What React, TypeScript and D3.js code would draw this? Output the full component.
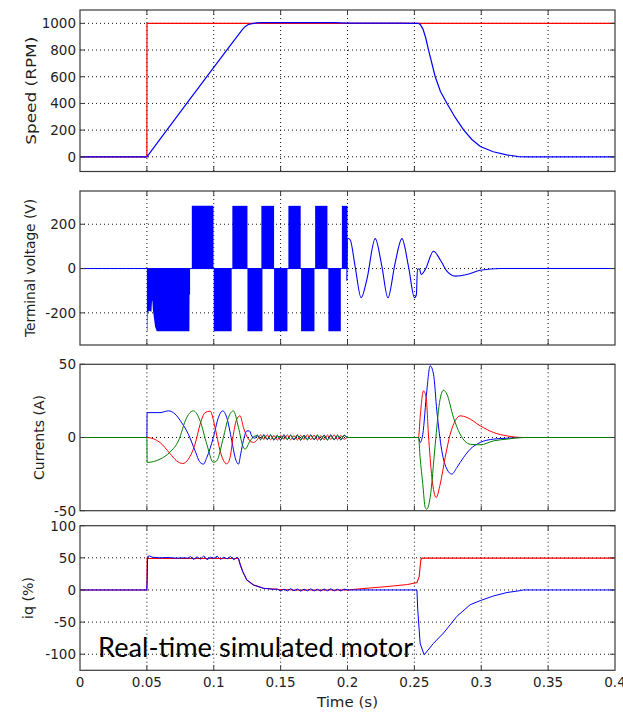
import React from 'react';
import * as d3 from 'd3';

type P = [number, number];

// ---------- axis ticks ----------
const timeTicks = [0, 0.05, 0.1, 0.15, 0.2, 0.25, 0.3, 0.35, 0.4];
const timeTickLabels = ['0', '0.05', '0.1', '0.15', '0.2', '0.25', '0.3', '0.35', '0.4'];
const speedTicks = [0, 200, 400, 600, 800, 1000];
const voltageTicks = [-200, 0, 200];
const currentTicks = [-50, 0, 50];
const iqTicks = [-100, -50, 0, 50, 100];

// ---------- speed (RPM) ----------
const speedRef: P[] = [[0, 0], [0.05, 0], [0.0501, 1000], [0.4, 1000]];
const speedMeas: P[] = [
  [0, 0], [0.05, 0], [0.0798, 401], [0.1097, 800], [0.1215, 955], [0.1234, 975], [0.1255, 990],
  [0.1284, 998], [0.132, 1003], [0.135, 1005], [0.19, 1005], [0.2, 1002], [0.24, 1002],
  [0.2529, 1000], [0.2545, 990], [0.2565, 955], [0.2585, 890], [0.2606, 800], [0.2656, 600],
  [0.2695, 490], [0.2743, 401], [0.2805, 295], [0.2868, 202], [0.293, 130], [0.2993, 77],
  [0.309, 38], [0.319, 15], [0.3278, 2], [0.335, 0], [0.4, 0],
];

// ---------- terminal voltage (V) ----------
// PWM blocks: [start, end, level]
const voltageBlocks: [number, number, number][] = [
  [0.0836, 0.0998, 283], [0.1, 0.1134, -283], [0.1139, 0.1252, 283], [0.1252, 0.1364, -283],
  [0.1356, 0.1451, 283], [0.1451, 0.1551, -283], [0.1558, 0.165, 283], [0.1653, 0.1753, -283],
  [0.1758, 0.185, 283], [0.1857, 0.195, -283], [0.1958, 0.2, 283],
];
const voltageFirstBlock: P[] = [
  [0.05, -283], [0.0504, -283], [0.0505, -200], [0.0516, -190], [0.0534, -195], [0.0538, -150],
  [0.0541, -144], [0.0545, -190], [0.0548, -200], [0.0561, -262], [0.0574, -283], [0.0818, -283],
  [0.0819, -117], [0.0823, -117],
];
const voltageZero: P[] = [[0, 0], [0.2, 0]];
const voltageTail: P[] = [
  [0.1995, -55], [0.2, 137], [0.202, 130], [0.2057, 10], [0.2102, -132], [0.2145, -49],
  [0.2207, 135], [0.2257, 10], [0.2302, -132], [0.2356, 25], [0.2407, 135], [0.2456, 10],
  [0.2501, -132], [0.2515, -117], [0.2523, -2], [0.2538, -2], [0.2551, -27], [0.2581, -5],
  [0.2643, 78], [0.2693, 40], [0.2743, -12], [0.2805, -34], [0.2893, -27], [0.2992, -8],
  [0.3142, 0], [0.4, 0],
];

// ---------- phase currents (A) ----------
const noiseTimes = [
  0.1325, 0.135, 0.1375, 0.14, 0.1425, 0.145, 0.1475, 0.15, 0.1525, 0.155, 0.1575, 0.16, 0.1625,
  0.165, 0.1675, 0.17, 0.1725, 0.175, 0.1775, 0.18, 0.1825, 0.185, 0.1875, 0.19, 0.1925, 0.195, 0.1975,
];
const blueNoise = [1.8, -1.2, 2, -1.5, 1.6, -1.8, 1.2, -1.6, 1.9, -1.3, 1.5, -1.7, 1.4, -1.9, 1.6, -1.2, 1.8, -1.5, 1.3, -1.8, 1.7, -1.4, 1.9, -1.6, 1.2, -1.7, 1.5];
const redNoise = [-1.5, 1.7, -1.3, 1.9, -1.6, 1.4, -1.8, 1.5, -1.2, 1.8, -1.6, 1.3, -1.7, 1.5, -1.4, 1.9, -1.5, 1.6, -1.8, 1.2, -1.5, 1.7, -1.3, 1.8, -1.6, 1.4, -1.2];
const greenNoise = [1.2, -1.6, 1.5, -1.2, 1.8, -1.4, 1.6, -1.9, 1.3, -1.5, 1.7, -1.2, 1.9, -1.4, 1.2, -1.7, 1.5, -1.3, 1.8, -1.6, 1.4, -1.8, 1.2, -1.5, 1.7, -1.3, 1.6];

const currentBlueStart: P[] = [
  [0, 0], [0.05, 0], [0.0502, 17], [0.0598, 17], [0.0661, 18.2], [0.0711, 16], [0.0761, 10],
  [0.081, 2.3], [0.086, -9], [0.0898, -17], [0.0923, -18.2], [0.0948, -13.7], [0.0997, 0],
  [0.1035, 13.7], [0.1067, 18.2], [0.1097, 13.7], [0.1135, -2.3], [0.116, -13.7], [0.1185, -18.2],
  [0.1202, -11], [0.1222, -2], [0.1247, 4.5], [0.1267, 4.5], [0.1284, 1], [0.1309, -0.5],
];
const currentBlueEnd: P[] = [
  [0.2, 0], [0.2531, 0], [0.2543, -3.4], [0.2563, 2.3], [0.2593, 31.9], [0.2618, 49], [0.2643, 43.3],
  [0.2668, 18.2], [0.2705, -9], [0.2743, -21.6], [0.278, -25], [0.2818, -20.5], [0.2867, -13.7],
  [0.2917, -8], [0.2992, -3.4], [0.3092, -1.1], [0.3192, -0.5], [0.3316, 0], [0.4, 0],
];
const currentRedStart: P[] = [
  [0, 0], [0.05, 0], [0.0598, -3.4], [0.0673, -11], [0.0723, -16], [0.0768, -17.8], [0.081, -14.8],
  [0.086, -4.6], [0.0898, 9], [0.0935, 17], [0.0973, 18], [0.101, 6.8], [0.1047, -9], [0.1097, -18],
  [0.1122, -13.7], [0.1147, 2.3], [0.1172, 12.5], [0.1197, 14.8], [0.1222, 6.8], [0.1259, -1],
  [0.1297, -3.4],
];
const currentRedEnd: P[] = [
  [0.2, 0], [0.2531, 0], [0.2543, 13.7], [0.2568, 31.9], [0.2588, 27.3], [0.2605, 2.3], [0.2631, -27.3],
  [0.2663, -41], [0.2693, -31.9], [0.273, -13.7], [0.2768, 2.3], [0.2805, 11.4], [0.2842, 14.8],
  [0.2893, 13.7], [0.2992, 8], [0.3092, 3.4], [0.3192, 1.1], [0.3316, 0], [0.4, 0],
];
const currentGreenStart: P[] = [
  [0, 0], [0.05, 0], [0.0502, -17], [0.0598, -14.8], [0.0673, -10], [0.0736, -2.3], [0.0798, 13.7],
  [0.0848, 18.2], [0.0898, 11.4], [0.0948, -4.6], [0.0997, -17], [0.1022, -16], [0.1072, 0],
  [0.111, 13.7], [0.1147, 18.2], [0.1185, 6.8], [0.1217, -5.7], [0.1234, -8], [0.1272, -2.3],
  [0.1309, 1.1],
];
const currentGreenEnd: P[] = [
  [0.2, 0], [0.2531, 0], [0.2543, -13.7], [0.2563, -31.9], [0.2581, -47.8], [0.2593, -49],
  [0.2618, -41], [0.2656, -4.6], [0.2688, 23.9], [0.2718, 32.3], [0.2743, 29.6], [0.2792, 13.7],
  [0.2842, 2.3], [0.2917, -4.6], [0.2992, -5], [0.3092, -2.3], [0.3192, -1.1], [0.3316, 0], [0.4, 0],
];

// ---------- iq (%) ----------
const iqRef: P[] = [
  [0, 0], [0.05, 0], [0.0502, 49], [0.1185, 49], [0.1197, 40], [0.1217, 28.5], [0.1247, 15.5],
  [0.1297, 7.8], [0.1372, 2.6], [0.1471, 1], [0.16, 0], [0.2, 0], [0.21, 2], [0.23, 5.5],
  [0.245, 8.5], [0.2519, 11.4], [0.2536, 20.7], [0.2548, 46.6], [0.2556, 49.5], [0.4, 49.5],
];
const iqMeasStart: P[] = [
  [0, 0], [0.0499, 0], [0.0502, 14], [0.0506, 52], [0.052, 53], [0.054, 51], [0.06, 50],
  [0.066, 50.5], [0.072, 49.5], [0.078, 50], [0.081, 49.5],
];
const iqNoiseTimes1 = [0.0825, 0.085, 0.0875, 0.09, 0.0925, 0.095, 0.0975, 0.1, 0.1025, 0.105, 0.1075, 0.11, 0.1125, 0.115, 0.1175];
const iqNoise1 = [52, 47.5, 51.5, 48, 53, 47, 51, 49, 52.5, 47.5, 51, 48.5, 52, 47, 51];
const iqMeasMid: P[] = [
  [0.1185, 49], [0.1197, 40], [0.1217, 28.5], [0.1247, 15.5], [0.1297, 7.8], [0.1372, 2.6], [0.1445, 1],
];
const iqNoiseTimes2 = [0.1475, 0.15, 0.1525, 0.155, 0.1575, 0.16, 0.1625, 0.165, 0.1675, 0.17, 0.1725, 0.175, 0.1775, 0.18, 0.1825, 0.185, 0.1875, 0.19, 0.1925, 0.195, 0.1975];
const iqNoise2 = [1.5, -1.8, 1.2, -1.5, 2, -1.2, 1.6, -1.9, 1.3, -1.4, 1.8, -1.6, 1.1, -1.7, 1.5, -1.3, 1.9, -1.5, 1.2, -1.6, 1.4];
const iqMeasEnd: P[] = [
  [0.2, 0], [0.2519, 0], [0.2525, -30], [0.2543, -83], [0.2573, -101], [0.2643, -83], [0.2718, -67],
  [0.2818, -41], [0.2917, -23], [0.2992, -16.6], [0.3092, -9.3], [0.3192, -4], [0.3292, -1],
  [0.3316, 0], [0.4, 0],
];

const annotation = 'Real-time simulated motor';

// ---------- build series ----------
const zip = (ts: number[], vs: number[]): P[] => ts.map((t, i) => [t, vs[i]] as P);
const currentBlue = [...currentBlueStart, ...zip(noiseTimes, blueNoise), ...currentBlueEnd];
const currentRed = [...currentRedStart, ...zip(noiseTimes, redNoise), ...currentRedEnd];
const currentGreen = [...currentGreenStart, ...zip(noiseTimes, greenNoise), ...currentGreenEnd];
const iqMeas = [...iqMeasStart, ...zip(iqNoiseTimes1, iqNoise1), ...iqMeasMid, ...zip(iqNoiseTimes2, iqNoise2), ...iqMeasEnd];

const W = 623;
const H = 713;
const X0 = 80;
const X1 = 615;
const FONT = "'DejaVu Sans', 'Liberation Sans', Arial, sans-serif";
const AXIS = '#3a3a3a';
const TXT = '#1e1e1e';
const RED = '#ff0000';
const BLUE = '#0000ff';
const GREEN = '#008000';

const x = d3.scaleLinear().domain([0, 0.4]).range([X0, X1]);

interface Panel {
  top: number;
  bottom: number;
  domain: [number, number];
  ticks: number[];
  label: string;
  labelX: number;
  labelLen: number;
}

const panels: Panel[] = [
  { top: 10, bottom: 171.5, domain: [-110, 1100], ticks: speedTicks, label: 'Speed (RPM)', labelX: 31, labelLen: 108 },
  { top: 191, bottom: 345, domain: [-345, 350], ticks: voltageTicks, label: 'Terminal voltage (V)', labelX: 29.5, labelLen: 138 },
  { top: 364.3, bottom: 510.7, domain: [-50, 50], ticks: currentTicks, label: 'Currents (A)', labelX: 38.5, labelLen: 85 },
  { top: 525.7, bottom: 670.3, domain: [-125, 100], ticks: iqTicks, label: 'iq (%)', labelX: 28, labelLen: 42 },
];

const yScales = panels.map((p) => d3.scaleLinear().domain(p.domain).range([p.bottom, p.top]));

function linePath(data: P[], y: d3.ScaleLinear<number, number>, curve: d3.CurveFactory = d3.curveLinear) {
  return d3.line<P>().x((d) => x(d[0])).y((d) => y(d[1])).curve(curve)(data) || '';
}
function areaPath(data: P[], y: d3.ScaleLinear<number, number>) {
  return d3.area<P>().x((d) => x(d[0])).y0(y(0)).y1((d) => y(d[1]))(data) || '';
}

function Frame({ p, y, showX }: { p: Panel; y: d3.ScaleLinear<number, number>; showX: boolean }) {
  const tl = 5;
  return (
    <g>
      {timeTicks.slice(1, -1).map((t) => (
        <g key={'xt' + t}>
          <line x1={x(t)} x2={x(t)} y1={p.bottom} y2={p.bottom - tl} stroke={AXIS} />
          <line x1={x(t)} x2={x(t)} y1={p.top} y2={p.top + tl} stroke={AXIS} />
        </g>
      ))}
      {p.ticks.map((v) => (
        <g key={'yt' + v}>
          <line x1={X0} x2={X0 + tl} y1={y(v)} y2={y(v)} stroke={AXIS} />
          <line x1={X1} x2={X1 - tl} y1={y(v)} y2={y(v)} stroke={AXIS} />
          <text x={X0 - 4} y={y(v)} dy="0.36em" textAnchor="end" fontSize={13.5} fill={TXT} fontFamily={FONT}>
            {v < 0 ? '-' + Math.abs(v) : String(v)}
          </text>
        </g>
      ))}
      <rect x={X0} y={p.top} width={X1 - X0} height={p.bottom - p.top} fill="none" stroke={AXIS} strokeWidth={1.2} />
      <text
        transform={`translate(${p.labelX},${(p.top + p.bottom) / 2}) rotate(-90)`}
        textAnchor="middle"
        dy="0.36em"
        fontSize={14}
        fill={TXT}
        fontFamily={FONT}
        textLength={p.labelLen}
        lengthAdjust="spacingAndGlyphs"
      >
        {p.label}
      </text>
      {showX &&
        timeTicks.map((t, i) => (
          <text key={'xl' + t} x={x(t)} y={687} textAnchor="middle" fontSize={13.5} fill={TXT} fontFamily={FONT}>
            {timeTickLabels[i]}
          </text>
        ))}
    </g>
  );
}

function Grid({ p, y }: { p: Panel; y: d3.ScaleLinear<number, number> }) {
  const inner = p.ticks.filter((v) => y(v) > p.top + 1 && y(v) < p.bottom - 1);
  return (
    <g stroke="#111" strokeWidth={1} strokeDasharray="1,3">
      {timeTicks.slice(1, -1).map((t) => (
        <line key={'gx' + t} x1={x(t)} x2={x(t)} y1={p.top} y2={p.bottom} />
      ))}
      {inner.map((v) => (
        <line key={'gy' + v} x1={X0} x2={X1} y1={y(v)} y2={y(v)} />
      ))}
    </g>
  );
}

export default function App() {
  const [ys, yv, yc, yq] = yScales;
  const smooth = d3.curveMonotoneX;
  return (
    <svg width={W} height={H} style={{ position: 'absolute', left: 0, top: 0, background: '#fff' }}>
      <rect x={0} y={0} width={W} height={H} fill="#fff" />
      {panels.map((p, i) => (
        <Grid key={'g' + i} p={p} y={yScales[i]} />
      ))}

      {/* Speed */}
      <path d={linePath(speedRef, ys)} fill="none" stroke={RED} strokeWidth={1.2} />
      <path d={linePath(speedMeas, ys)} fill="none" stroke={BLUE} strokeWidth={1.2} />

      {/* Voltage */}
      <path d={linePath(voltageZero, yv)} fill="none" stroke={BLUE} strokeWidth={1} />
      <path d={areaPath(voltageFirstBlock, yv)} fill={BLUE} stroke="none" />
      {voltageBlocks.map((b, i) => (
        <path key={'vb' + i} d={areaPath([[b[0], b[2]], [b[1], b[2]]], yv)} fill={BLUE} stroke="none" />
      ))}
      <path d={linePath(voltageTail, yv, smooth)} fill="none" stroke={BLUE} strokeWidth={1.1} />

      {/* Currents */}
      <path d={linePath(currentBlue, yc, smooth)} fill="none" stroke={BLUE} strokeWidth={1} />
      <path d={linePath(currentRed, yc, smooth)} fill="none" stroke={RED} strokeWidth={1} />
      <path d={linePath(currentGreen, yc, smooth)} fill="none" stroke={GREEN} strokeWidth={1} />

      {/* iq */}
      <path d={linePath(iqRef, yq)} fill="none" stroke={RED} strokeWidth={1.1} />
      <path d={linePath(iqMeas, yq)} fill="none" stroke={BLUE} strokeWidth={1} />

      {panels.map((p, i) => (
        <Frame key={'f' + i} p={p} y={yScales[i]} showX={i === panels.length - 1} />
      ))}

      <text x={x(0.0135)} y={yq(-100) + 3} fontSize={26} fill="#000" fontFamily="Lato, 'Open Sans', sans-serif" textLength={315} lengthAdjust="spacingAndGlyphs">
        {annotation}
      </text>
      <text x={(X0 + X1) / 2} y={707} textAnchor="middle" fontSize={14} fill={TXT} fontFamily={FONT} textLength={61} lengthAdjust="spacingAndGlyphs">
        Time (s)
      </text>
    </svg>
  );
}
